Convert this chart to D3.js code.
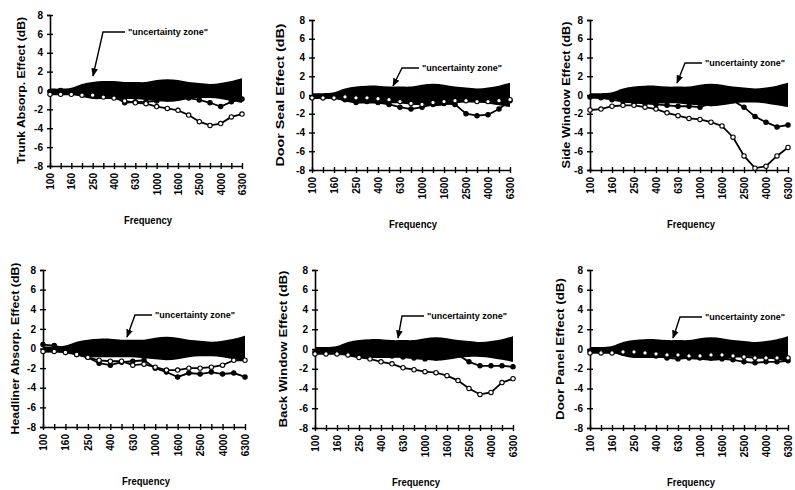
<!DOCTYPE html>
<html>
<head>
<meta charset="utf-8">
<script src="https://cdn.jsdelivr.net/npm/d3@7"></script>
<style>
  body { margin: 0; background: #fff; }
  svg { display: block; }
  text { font-family: "Liberation Sans", Arial, sans-serif; font-weight: bold; fill: #000; }
</style>
</head>
<body>
<svg width="795" height="490"></svg>
<script>
// 1/3 octave band centre frequencies (Hz)
var freqs = ["100", "125", "160", "200", "250", "315", "400", "500", "630", "800",
             "1000", "1250", "1600", "2000", "2500", "3150", "4000", "5000", "6300"];
var tickLabels = ["100", "160", "250", "400", "630", "1000", "1600", "2500", "4000", "6300"];
var yTicks = [8, 6, 4, 2, 0, -2, -4, -6, -8];

// "uncertainty zone" limits (dB)
var zoneUpper = [0.2, 0.2, 0.3, 0.7, 0.9, 1.0, 1.0, 0.9, 0.9, 0.9, 1.1, 1.2, 1.1, 0.9, 0.8, 0.7, 0.8, 1.0, 1.3];
var zoneLower = [-0.4, -0.4, -0.4, -0.7, -0.9, -0.9, -0.9, -0.9, -0.9, -1.0, -1.1, -1.2, -1.1, -0.9, -0.8, -0.8, -0.9, -1.1, -1.3];

// measured effects (dB), filled-marker and open-marker series
var trunkFilled = [-0.1, 0.0, -0.1, -0.3, -0.4, -0.5, -0.6, -1.3, -1.2, -1.2, -1.1, -0.9, -0.8, -0.8, -1.0, -1.3, -1.7, -1.2, -0.9];
var trunkOpen = [-0.4, -0.4, -0.4, -0.5, -0.5, -0.7, -0.8, -1.1, -1.3, -1.4, -1.7, -1.9, -2.1, -2.6, -3.3, -3.7, -3.5, -2.8, -2.5];

var doorSealFilled = [-0.3, -0.3, -0.3, -0.5, -0.8, -0.7, -0.8, -1.0, -1.3, -1.5, -1.3, -1.0, -0.9, -1.0, -2.0, -2.2, -2.1, -1.5, -0.6];
var doorSealOpen = [-0.3, -0.3, -0.3, -0.2, -0.3, -0.3, -0.4, -0.5, -0.7, -0.9, -1.0, -0.8, -0.7, -0.6, -0.6, -0.7, -0.7, -0.6, -0.5];

var sideWindowFilled = [-0.2, -0.3, -0.5, -0.7, -0.8, -0.9, -1.0, -1.1, -1.2, -1.2, -1.3, -0.9, -0.6, -0.6, -1.3, -2.3, -2.9, -3.4, -3.2];
var sideWindowOpen = [-1.6, -1.5, -1.2, -1.1, -1.1, -1.3, -1.5, -1.9, -2.2, -2.5, -2.6, -2.9, -3.3, -4.5, -6.5, -7.8, -7.6, -6.5, -5.6];

var headlinerFilled = [0.4, 0.3, 0.0, -0.6, -0.9, -1.5, -1.7, -1.4, -1.3, -1.2, -2.0, -2.4, -2.9, -2.5, -2.6, -2.4, -2.6, -2.5, -2.9];
var headlinerOpen = [-0.3, -0.3, -0.4, -0.6, -0.9, -1.2, -1.3, -1.3, -1.7, -1.6, -1.9, -2.2, -2.2, -2.0, -2.0, -1.9, -1.7, -1.2, -1.2];

var backWindowFilled = [-0.3, -0.3, -0.3, -0.3, -0.4, -0.5, -0.6, -0.7, -0.8, -0.9, -1.0, -0.9, -0.7, -0.6, -1.3, -1.7, -1.7, -1.7, -1.8];
var backWindowOpen = [-0.5, -0.5, -0.5, -0.6, -0.85, -1.0, -1.3, -1.5, -1.9, -2.1, -2.3, -2.4, -2.7, -3.2, -4.0, -4.6, -4.4, -3.4, -3.0];

var doorPanelFilled = [-0.2, -0.2, -0.3, -0.4, -0.5, -0.6, -0.7, -0.9, -1.0, -0.9, -0.9, -0.9, -1.0, -1.1, -1.3, -1.4, -1.3, -1.3, -1.2];
var doorPanelOpen = [-0.4, -0.4, -0.4, -0.3, -0.3, -0.4, -0.5, -0.6, -0.6, -0.7, -0.7, -0.6, -0.6, -0.7, -0.8, -0.9, -0.9, -0.9, -0.9];

var panels = [
    {title: "Trunk Absorp. Effect (dB)", filled: trunkFilled, open: trunkOpen,
     x0: 50, x1: 242, top: 15, bot: 166, titleX: 21, titleLen: 147,
     note: {tx: 128, ty: 32, kx: 103, ax: 93, ay: 76}},
    {title: "Door Seal Effect (dB)", filled: doorSealFilled, open: doorSealOpen,
     x0: 312, x1: 510, top: 20, bot: 170, titleX: 280, titleLen: 143,
     note: {tx: 422, ty: 68, kx: 402, ax: 393, ay: 86}},
    {title: "Side Window Effect (dB)", filled: sideWindowFilled, open: sideWindowOpen,
     x0: 590, x1: 788, top: 20, bot: 170, titleX: 566, titleLen: 147,
     note: {tx: 705, ty: 63, kx: 685, ax: 677, ay: 83}},
    {title: "Headliner Absorp. Effect (dB)", filled: headlinerFilled, open: headlinerOpen,
     x0: 43, x1: 245, top: 270, bot: 427, titleX: 15, titleLen: 172,
     note: {tx: 155, ty: 315, kx: 135, ax: 127, ay: 337}},
    {title: "Back Window Effect (dB)", filled: backWindowFilled, open: backWindowOpen,
     x0: 315, x1: 513, top: 270, bot: 428, titleX: 283, titleLen: 157,
     note: {tx: 427, ty: 316, kx: 402, ax: 398, ay: 338}},
    {title: "Door Panel Effect (dB)", filled: doorPanelFilled, open: doorPanelOpen,
     x0: 590, x1: 788, top: 270, bot: 428, titleX: 560, titleLen: 142,
     note: {tx: 705, ty: 317, kx: 680, ax: 673, ay: 338}}
];

var svg = d3.select("svg");

svg.append("defs").append("marker")
    .attr("id", "head")
    .attr("viewBox", "0 0 10 10")
    .attr("refX", 9).attr("refY", 5)
    .attr("markerWidth", 6).attr("markerHeight", 6)
    .attr("orient", "auto")
    .append("path")
    .attr("d", "M0,1 L10,5 L0,9 Z")
    .attr("fill", "#000");

panels.forEach(function (p) {
    var g = svg.append("g");

    var x = d3.scalePoint().domain(freqs).range([p.x0, p.x1]);
    var y = d3.scaleLinear().domain([-8, 8]).range([p.bot, p.top]);

    // uncertainty zone
    var area = d3.area()
        .x(function (d, i) { return x(freqs[i]); })
        .y0(function (d, i) { return y(zoneLower[i]); })
        .y1(function (d) { return y(d); })
        .curve(d3.curveCatmullRom);
    g.append("path")
        .datum(zoneUpper)
        .attr("d", area)
        .attr("fill", "#000");

    // y axis with crossing ticks
    var yAxis = g.append("g")
        .attr("transform", "translate(" + p.x0 + ",0)")
        .call(d3.axisLeft(y).tickValues(yTicks).tickSize(3).tickPadding(4)
            .tickFormat(function (d) { return String(d); }));
    yAxis.select(".domain").attr("stroke-width", 1.6);
    yAxis.selectAll(".tick line").attr("x2", 3).attr("x1", -3).attr("stroke-width", 1.4);
    yAxis.selectAll(".tick text").attr("font-size", 10).attr("font-family", null);

    // x axis along -8
    var xAxis = g.append("g")
        .attr("transform", "translate(0," + p.bot + ")")
        .call(d3.axisBottom(x).tickSize(3).tickSizeOuter(0)
            .tickFormat(function (d) { return tickLabels.indexOf(d) >= 0 ? d : ""; }));
    xAxis.select(".domain").attr("stroke-width", 1.6);
    xAxis.selectAll(".tick line").attr("y1", -3).attr("y2", 3).attr("stroke-width", 1.4);
    xAxis.selectAll(".tick text")
        .attr("font-size", 10).attr("font-family", null)
        .attr("text-anchor", "end")
        .attr("transform", "rotate(-90)")
        .attr("x", -7).attr("y", 0).attr("dy", "0.35em");

    var line = d3.line()
        .x(function (d, i) { return x(freqs[i]); })
        .y(function (d) { return y(d); });

    [{v: p.filled, fill: "#000"}, {v: p.open, fill: "#fff"}].forEach(function (s) {
        g.append("path")
            .datum(s.v)
            .attr("d", line)
            .attr("fill", "none")
            .attr("stroke", "#000")
            .attr("stroke-width", 1.8);
        g.selectAll(null)
            .data(s.v)
            .enter().append("circle")
            .attr("cx", function (d, i) { return x(freqs[i]); })
            .attr("cy", function (d) { return y(d); })
            .attr("r", 2.2)
            .attr("fill", s.fill)
            .attr("stroke", "#000")
            .attr("stroke-width", 1.1);
    });

    // titles
    var midY = (p.top + p.bot) / 2;
    g.append("text")
        .attr("transform", "translate(" + p.titleX + "," + midY + ") rotate(-90)")
        .attr("text-anchor", "middle")
        .attr("dy", "0.35em")
        .attr("font-size", 10)
        .attr("textLength", p.titleLen)
        .attr("lengthAdjust", "spacingAndGlyphs")
        .text(p.title);

    g.append("text")
        .attr("x", (p.x0 + p.x1) / 2 + 2)
        .attr("y", p.bot + 58)
        .attr("text-anchor", "middle")
        .attr("font-size", 10.5)
        .attr("textLength", 48)
        .attr("lengthAdjust", "spacingAndGlyphs")
        .text("Frequency");

    // annotation
    var n = p.note;
    g.append("text")
        .attr("x", n.tx).attr("y", n.ty)
        .attr("dy", "0.35em")
        .attr("font-size", 9)
        .attr("textLength", 80)
        .attr("lengthAdjust", "spacingAndGlyphs")
        .text("\"uncertainty zone\"");
    g.append("path")
        .attr("d", "M" + (n.tx - 3) + "," + n.ty + "H" + n.kx + "L" + n.ax + "," + n.ay)
        .attr("fill", "none")
        .attr("stroke", "#000")
        .attr("stroke-width", 1.4)
        .attr("marker-end", "url(#head)");
});
</script>
</body>
</html>
